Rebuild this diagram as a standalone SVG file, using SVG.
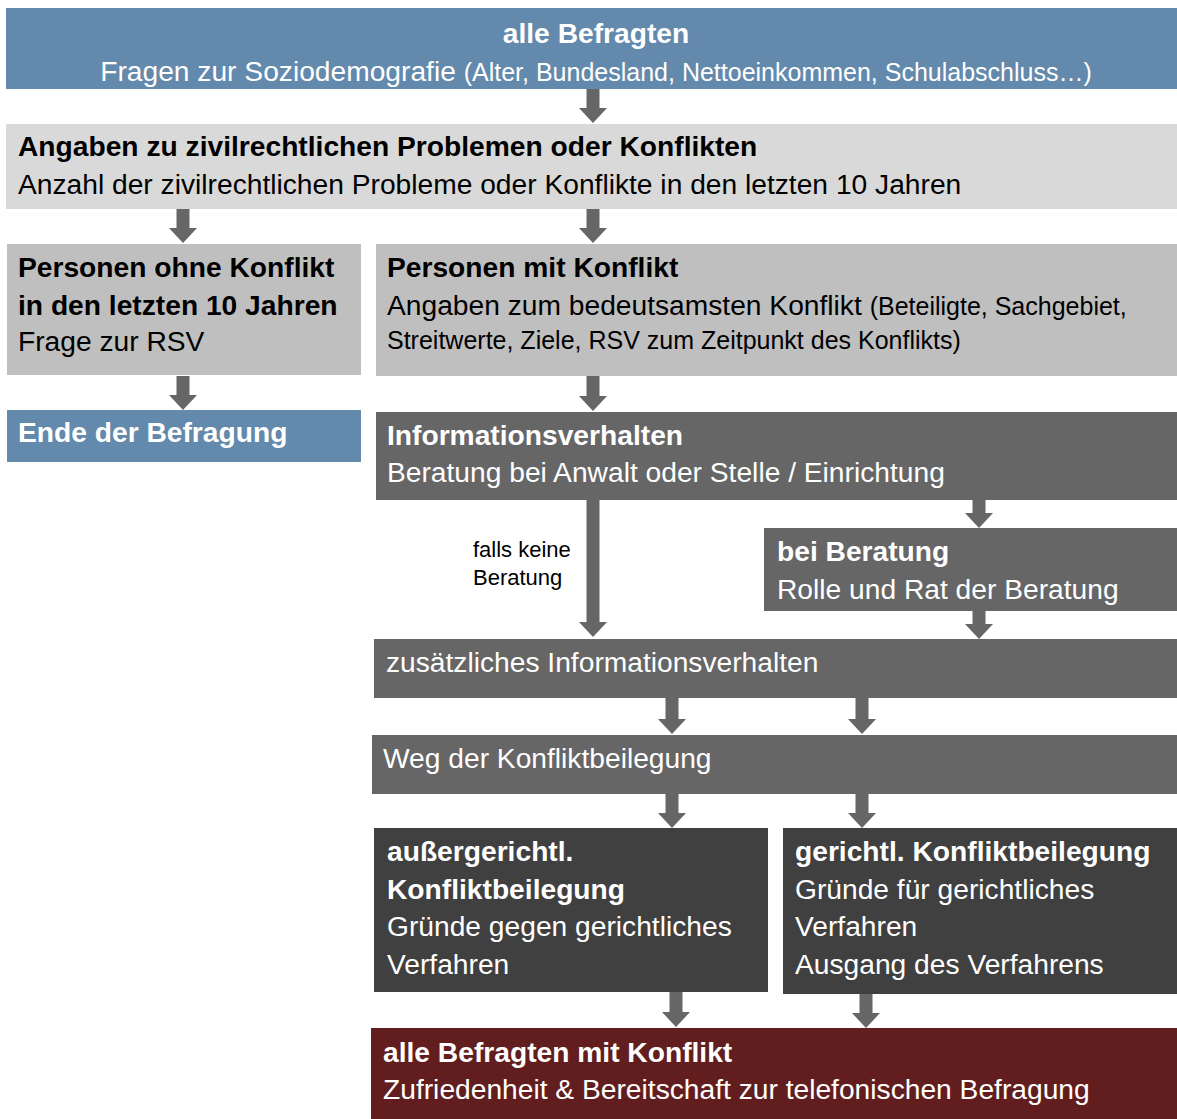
<svg xmlns="http://www.w3.org/2000/svg" width="1177" height="1119" viewBox="0 0 1177 1119">
<defs>
<style>
text{font-family:"Liberation Sans",Arial,sans-serif;font-size:28.2px}
.b{font-weight:bold}
.w{fill:#ffffff}
.k{fill:#000000}
.s{font-size:25px}
.lbl{font-size:22px;fill:#000000}
.blue{fill:#6389AC}
.l1{fill:#D9D9D9}
.l2{fill:#BFBFBF}
.d1{fill:#666666}
.d2{fill:#404040}
.red{fill:#621E1E}
.arr{fill:#666666}
</style>
</defs>
<g id="connectors" class="arr">
<path d="M586.5,89 H599.5 V108 H607 L593,123 L579,108 H586.5 Z"/>
<path d="M176.5,209 H189.5 V228 H197 L183,243 L169,228 H176.5 Z"/>
<path d="M586.5,209 H599.5 V228 H607 L593,243 L579,228 H586.5 Z"/>
<path d="M176.5,376 H189.5 V395 H197 L183,410 L169,395 H176.5 Z"/>
<path d="M586.5,376 H599.5 V396 H607 L593,411 L579,396 H586.5 Z"/>
<path d="M586.5,500 H599.5 V622 H607 L593,637 L579,622 H586.5 Z"/>
<path d="M972.5,500 H985.5 V513 H993 L979,528 L965,513 H972.5 Z"/>
<path d="M972.5,611 H985.5 V624 H993 L979,639 L965,624 H972.5 Z"/>
<path d="M665.5,698 H678.5 V719 H686 L672,734 L658,719 H665.5 Z"/>
<path d="M855.5,698 H868.5 V719 H876 L862,734 L848,719 H855.5 Z"/>
<path d="M665.5,794 H678.5 V813 H686 L672,828 L658,813 H665.5 Z"/>
<path d="M855.5,794 H868.5 V813 H876 L862,828 L848,813 H855.5 Z"/>
<path d="M669.5,992 H682.5 V1012 H690 L676,1027 L662,1012 H669.5 Z"/>
<path d="M859.5,994 H872.5 V1013 H880 L866,1028 L852,1013 H859.5 Z"/>
<text class="lbl" x="473" y="557">falls keine</text>
<text class="lbl" x="473" y="585">Beratung</text>
</g>
<g id="n-alle">
<rect class="blue" x="6" y="8" width="1171" height="81"/>
<text class="b w" x="596" y="43" text-anchor="middle">alle Befragten</text>
<text class="w" x="596" y="81" text-anchor="middle">Fragen zur Soziodemografie <tspan class="s">(Alter, Bundesland, Nettoeinkommen, Schulabschluss…)</tspan></text>
</g>
<g id="n-angaben">
<rect class="l1" x="6" y="124" width="1171" height="85"/>
<text class="b k" x="18" y="156">Angaben zu zivilrechtlichen Problemen oder Konflikten</text>
<text class="k" x="18" y="194">Anzahl der zivilrechtlichen Probleme oder Konflikte in den letzten 10 Jahren</text>
</g>
<g id="n-ohne">
<rect class="l2" x="7" y="244" width="354" height="131"/>
<text class="b k" x="18" y="277">Personen ohne Konflikt</text>
<text class="b k" x="18" y="315">in den letzten 10 Jahren</text>
<text class="k" x="18" y="351">Frage zur RSV</text>
</g>
<g id="n-mit">
<rect class="l2" x="376" y="244" width="801" height="132"/>
<text class="b k" x="387" y="277">Personen mit Konflikt</text>
<text class="k" x="387" y="315">Angaben zum bedeutsamsten Konflikt <tspan class="s">(Beteiligte, Sachgebiet,</tspan></text>
<text class="k s" x="387" y="349">Streitwerte, Ziele, RSV zum Zeitpunkt des Konflikts)</text>
</g>
<g id="n-ende">
<rect class="blue" x="7" y="410" width="354" height="52"/>
<text class="b w" x="18" y="442">Ende der Befragung</text>
</g>
<g id="n-info">
<rect class="d1" x="376" y="412" width="801" height="88"/>
<text class="b w" x="387" y="445">Informationsverhalten</text>
<text class="w" x="387" y="482">Beratung bei Anwalt oder Stelle / Einrichtung</text>
</g>
<g id="n-bei">
<rect class="d1" x="764" y="528" width="413" height="83"/>
<text class="b w" x="777" y="561">bei Beratung</text>
<text class="w" x="777" y="599">Rolle und Rat der Beratung</text>
</g>
<g id="n-zus">
<rect class="d1" x="374" y="639" width="803" height="59"/>
<text class="w" x="386" y="672">zusätzliches Informationsverhalten</text>
</g>
<g id="n-weg">
<rect class="d1" x="372" y="735" width="805" height="59"/>
<text class="w" x="383" y="768">Weg der Konfliktbeilegung</text>
</g>
<g id="n-ausser">
<rect class="d2" x="374" y="828" width="394" height="164"/>
<text class="b w" x="387" y="861">außergerichtl.</text>
<text class="b w" x="387" y="899">Konfliktbeilegung</text>
<text class="w" x="387" y="936">Gründe gegen gerichtliches</text>
<text class="w" x="387" y="974">Verfahren</text>
</g>
<g id="n-gericht">
<rect class="d2" x="783" y="828" width="394" height="166"/>
<text class="b w" x="795" y="861">gerichtl. Konfliktbeilegung</text>
<text class="w" x="795" y="899">Gründe für gerichtliches</text>
<text class="w" x="795" y="936">Verfahren</text>
<text class="w" x="795" y="974">Ausgang des Verfahrens</text>
</g>
<g id="n-final">
<rect class="red" x="371" y="1028" width="806" height="91"/>
<text class="b w" x="383" y="1062">alle Befragten mit Konflikt</text>
<text class="w" x="383" y="1099">Zufriedenheit &amp; Bereitschaft zur telefonischen Befragung</text>
</g>
</svg>
